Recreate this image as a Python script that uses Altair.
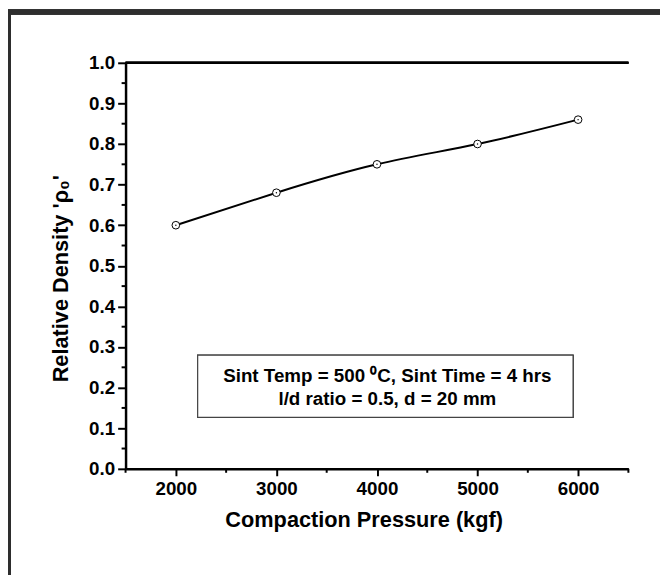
import altair as alt
import pandas as pd

pressure = [2000, 3000, 4000, 5000, 6000]
density = [0.60, 0.68, 0.75, 0.80, 0.86]

x_major = [2000, 3000, 4000, 5000, 6000]
x_minor = [1500, 2500, 3500, 4500, 5500, 6500]
y_major = [0.0, 0.1, 0.2, 0.3, 0.4, 0.5, 0.6, 0.7, 0.8, 0.9, 1.0]
y_minor = [0.05, 0.15, 0.25, 0.35, 0.45, 0.55, 0.65, 0.75, 0.85, 0.95]

note_lines = ["Sint Temp = 500 \u2070C, Sint Time = 4 hrs", "l/d ratio = 0.5, d = 20 mm"]

FONT = "Liberation Sans"
W, H = 509, 411
PL, PT, PR, PB = 119, 52, 32, 104

df = pd.DataFrame({"p": pressure, "d": density})
xs = alt.Scale(domain=[1500, 6500], nice=False, zero=False)
ys = alt.Scale(domain=[0, 1], nice=False, zero=False)

x_axis = alt.Axis(values=x_major, format="d", title="Compaction Pressure (kgf)", grid=False,
                  labelFont=FONT, labelFontSize=19, labelFontWeight="bold", labelColor="black",
                  titleFont=FONT, titleFontSize=22, titleFontWeight="bold", titleColor="black",
                  tickSize=7, tickWidth=2, tickColor="black", domainWidth=2.5, domainColor="black",
                  labelPadding=4, labelFlush=False, titleX=241, titleY=58,
                  titleBaseline="alphabetic", titleAlign="center")
y_axis = alt.Axis(values=y_major, format=".1f", title="Relative Density '\u03c1\u2080'", grid=False,
                  labelFont=FONT, labelFontSize=19, labelFontWeight="bold", labelColor="black",
                  titleFont=FONT, titleFontSize=22, titleFontWeight="bold", titleColor="black",
                  tickSize=8, tickWidth=2, tickColor="black", domainWidth=2.5, domainColor="black",
                  labelPadding=3, labelFlush=False, titleX=-59, titleY=218, titleAngle=270,
                  titleBaseline="alphabetic", titleAlign="center")

base = alt.Chart(df)

frame = base.mark_rect(fill=None, stroke="#2e2e2e", strokeWidth=5).encode(
    x=alt.value(-PL + 0.5), y=alt.value(-PT + 0.5),
    x2=alt.value(W + PR + 20), y2=alt.value(H + PB + 20))

box = base.mark_rect(fill="white", stroke="#444444", strokeWidth=1.2).encode(
    x=alt.value(73), x2=alt.value(453), y=alt.value(296), y2=alt.value(359))

note1 = alt.Chart(pd.DataFrame({"t": [note_lines[0]]})).mark_text(
    font=FONT, fontSize=19, fontWeight="bold", color="black", align="center", baseline="alphabetic"
).encode(text="t:N", x=alt.value(265), y=alt.value(323))
note2 = alt.Chart(pd.DataFrame({"t": [note_lines[1]]})).mark_text(
    font=FONT, fontSize=19, fontWeight="bold", color="black", align="center", baseline="alphabetic"
).encode(text="t:N", x=alt.value(265), y=alt.value(346))

top = base.mark_rule(color="black", strokeWidth=2).encode(
    x=alt.value(0), x2=alt.value(W), y=alt.value(0))

ymin = alt.Chart(pd.DataFrame({"v": y_minor})).mark_rule(color="black", strokeWidth=2).encode(
    y=alt.Y("v:Q", scale=ys, axis=y_axis), x=alt.value(-4), x2=alt.value(0))
xmin = alt.Chart(pd.DataFrame({"v": x_minor})).mark_rule(color="black", strokeWidth=2).encode(
    x=alt.X("v:Q", scale=xs, axis=x_axis), y=alt.value(H), y2=alt.value(H + 4))

line = base.mark_line(color="black", strokeWidth=2, interpolate="natural").encode(
    x=alt.X("p:Q", scale=xs, axis=x_axis), y=alt.Y("d:Q", scale=ys, axis=y_axis))
pts = base.mark_point(shape="circle", filled=True, fill="white", stroke="black",
                      strokeWidth=1, size=60, opacity=1).encode(
    x=alt.X("p:Q", scale=xs), y=alt.Y("d:Q", scale=ys))
dots = base.mark_point(shape="circle", filled=True, color="black", size=2, opacity=1).encode(
    x=alt.X("p:Q", scale=xs), y=alt.Y("d:Q", scale=ys))

chart = alt.layer(frame, box, note1, note2, top, ymin, xmin, line, pts, dots).properties(
    width=W, height=H,
    autosize=alt.AutoSizeParams(type="none"),
    padding={"left": PL, "top": PT, "right": PR, "bottom": PB},
    background="white",
).configure_view(stroke=None)

chart.save("out.html", embed_options={"renderer": "svg", "actions": False})
